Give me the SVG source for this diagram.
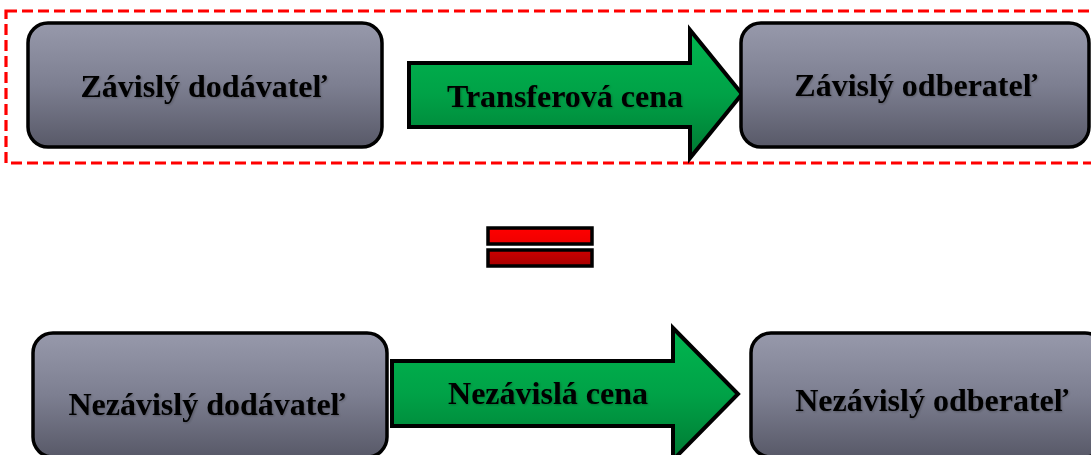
<svg xmlns="http://www.w3.org/2000/svg" width="1091" height="455" viewBox="0 0 1091 455">
<defs>
<linearGradient id="gGray" x1="0" y1="0" x2="0" y2="1">
<stop offset="0" stop-color="#9799ab"/>
<stop offset="0.5" stop-color="#7d7f91"/>
<stop offset="1" stop-color="#585968"/>
</linearGradient>
<linearGradient id="gGreen" x1="0" y1="0" x2="0" y2="1">
<stop offset="0" stop-color="#00b64f"/>
<stop offset="0.5" stop-color="#00a247"/>
<stop offset="1" stop-color="#007a33"/>
</linearGradient>
<linearGradient id="gRed1" x1="0" y1="0" x2="0" y2="1">
<stop offset="0" stop-color="#ff0000"/>
<stop offset="1" stop-color="#ee0000"/>
</linearGradient>
<linearGradient id="gRed2" x1="0" y1="0" x2="0" y2="1">
<stop offset="0" stop-color="#cc0000"/>
<stop offset="1" stop-color="#a80000"/>
</linearGradient>
<filter id="ts" x="-10%" y="-30%" width="120%" height="160%">
<feDropShadow dx="1" dy="1" stdDeviation="0.8" flood-color="#000" flood-opacity="0.25"/>
</filter>
</defs>
<style>
.box{fill:url(#gGray);stroke:#000;stroke-width:3.5}
.arrow{fill:url(#gGreen);stroke:#000;stroke-width:4;stroke-linejoin:miter}
.lbl{font-family:"Liberation Serif","Times New Roman",serif;font-weight:bold;font-size:32px;fill:#000;text-anchor:middle;filter:url(#ts)}
.frame{fill:none;stroke:#ff0000;stroke-width:3.2;stroke-dasharray:11 5}
.eq{stroke:#000;stroke-width:3.5}
</style>
<rect class="frame" x="6" y="11" width="1100" height="152"/>
<g id="connectors">
<g id="arrow-transfer">
<polygon class="arrow" points="409,63 690,63 690,30 742,94 690,158 690,127 409,127"/>
<text class="lbl" x="565" y="107">Transferová cena</text>
</g>
<g id="arrow-nezavisla">
<polygon class="arrow" points="392,361 673,361 673,328 738,394 673,460 673,426 392,426"/>
<text class="lbl" x="548" y="404">Nezávislá cena</text>
</g>
</g>
<g id="node-zavisly-dodavatel">
<rect class="box" x="28" y="23" width="354" height="124" rx="20"/>
<text class="lbl" x="204" y="97">Závislý dodávateľ</text>
</g>
<g id="node-zavisly-odberatel">
<rect class="box" x="741" y="23" width="348" height="124" rx="20"/>
<text class="lbl" x="916" y="96">Závislý odberateľ</text>
</g>
<g id="equals">
<rect class="eq" x="488" y="228" width="104" height="16" fill="url(#gRed1)"/>
<rect class="eq" x="488" y="250" width="104" height="16" fill="url(#gRed2)"/>
</g>
<g id="node-nezavisly-dodavatel">
<rect class="box" x="33" y="333" width="354" height="124" rx="20"/>
<text class="lbl" x="207" y="415">Nezávislý dodávateľ</text>
</g>
<g id="node-nezavisly-odberatel">
<rect class="box" x="751" y="333" width="354" height="124" rx="20"/>
<text class="lbl" x="932" y="411">Nezávislý odberateľ</text>
</g>
</svg>
